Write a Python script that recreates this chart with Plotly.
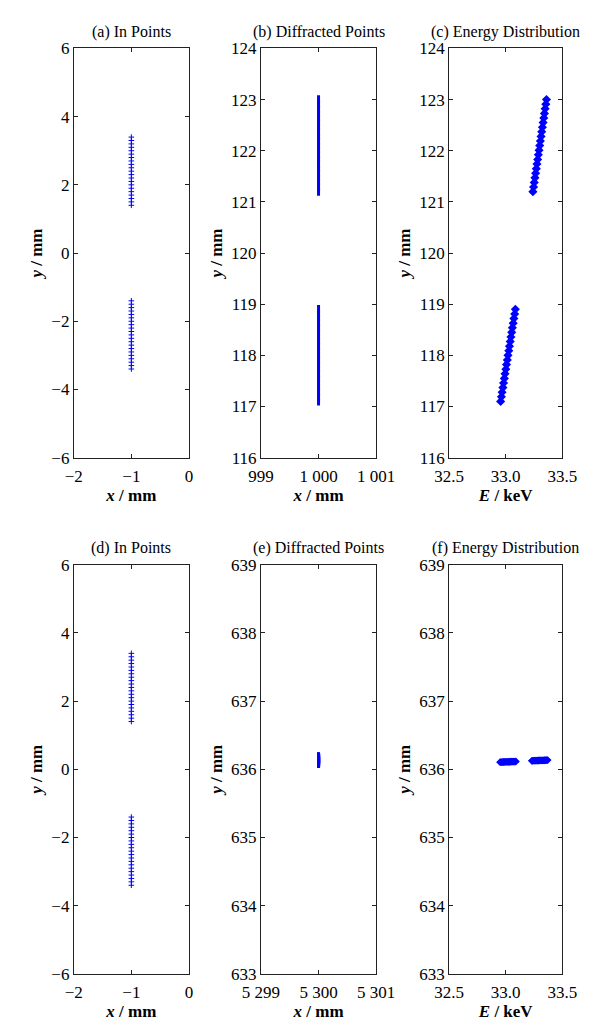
import plotly.graph_objects as go

# ---------------- data ----------------
# (a)/(d) input points (x = -1 mm)
in_x = -1.0
in_y_upper = [1.4, 1.5, 1.6, 1.7, 1.8, 1.9, 2.0, 2.1, 2.2, 2.3, 2.4, 2.5, 2.6, 2.7,
              2.8, 2.9, 3.0, 3.1, 3.2, 3.3, 3.4]
in_y_lower = [-1.4, -1.5, -1.6, -1.7, -1.8, -1.9, -2.0, -2.1, -2.2, -2.3, -2.4, -2.5,
              -2.6, -2.7, -2.8, -2.9, -3.0, -3.1, -3.2, -3.3, -3.4]

# (b) diffracted points (x = 1000 mm)
b_x = 1000.0
b_y_upper = [121.20, 121.29, 121.38, 121.47, 121.56, 121.65, 121.74, 121.83, 121.92,
             122.01, 122.10, 122.19, 122.28, 122.37, 122.46, 122.55, 122.64, 122.73,
             122.82, 122.91, 123.00]
b_y_lower = [117.10, 117.19, 117.28, 117.37, 117.46, 117.55, 117.64, 117.73, 117.82,
             117.91, 118.00, 118.09, 118.18, 118.27, 118.36, 118.45, 118.54, 118.63,
             118.72, 118.81, 118.90]

# (c) energy distribution
c_e_upper = [33.240, 33.246, 33.252, 33.258, 33.264, 33.270, 33.276, 33.282, 33.288,
             33.294, 33.300, 33.306, 33.312, 33.318, 33.324, 33.330, 33.336, 33.342,
             33.348, 33.354, 33.360]
c_e_lower = [32.955, 32.962, 32.968, 32.975, 32.981, 32.988, 32.994, 33.001, 33.007,
             33.014, 33.020, 33.027, 33.033, 33.040, 33.046, 33.053, 33.059, 33.066,
             33.072, 33.079, 33.085]

# (e) diffracted points (x = 5300 mm)
e_x = 5300.0
e_y_upper = [636.13, 636.134, 636.138, 636.142, 636.146, 636.15, 636.154, 636.158,
             636.162, 636.166, 636.17, 636.174, 636.178, 636.182, 636.186, 636.19,
             636.194, 636.198, 636.20, 636.205, 636.21]
e_y_lower = [636.06, 636.064, 636.068, 636.072, 636.076, 636.08, 636.084, 636.088,
             636.092, 636.096, 636.10, 636.104, 636.108, 636.112, 636.116, 636.12,
             636.122, 636.124, 636.126, 636.128, 636.13]

# (f) energy distribution
f_e_left = [32.950, 32.957, 32.964, 32.971, 32.978, 32.985, 32.992, 32.999, 33.006,
            33.013, 33.020, 33.027, 33.034, 33.041, 33.048, 33.055, 33.062, 33.069,
            33.076, 33.083, 33.090]
f_y_left = [636.105, 636.105, 636.106, 636.106, 636.107, 636.107, 636.108, 636.108,
            636.109, 636.109, 636.110, 636.110, 636.111, 636.111, 636.112, 636.112,
            636.113, 636.113, 636.114, 636.114, 636.115]
f_e_right = [33.230, 33.237, 33.244, 33.251, 33.258, 33.265, 33.272, 33.279, 33.286,
             33.293, 33.300, 33.307, 33.314, 33.321, 33.328, 33.335, 33.342, 33.349,
             33.356, 33.363, 33.370]
f_y_right = [636.125, 636.125, 636.126, 636.126, 636.127, 636.127, 636.128, 636.128,
             636.129, 636.129, 636.130, 636.130, 636.131, 636.131, 636.132, 636.132,
             636.133, 636.133, 636.134, 636.134, 636.135]

# tick labels
ticks_a_x = [-2, -1, 0]
ticks_a_x_text = ["\u22122", "\u22121", "0"]
ticks_a_y = [-6, -4, -2, 0, 2, 4, 6]
ticks_a_y_text = ["\u22126", "\u22124", "\u22122", "0", "2", "4", "6"]
ticks_b_x = [999, 1000, 1001]
ticks_b_x_text = ["999", "1 000", "1 001"]
ticks_b_y = [116, 117, 118, 119, 120, 121, 122, 123, 124]
ticks_c_x = [32.5, 33.0, 33.5]
ticks_c_x_text = ["32.5", "33.0", "33.5"]
ticks_e_x = [5299, 5300, 5301]
ticks_e_x_text = ["5 299", "5 300", "5 301"]
ticks_e_y = [633, 634, 635, 636, 637, 638, 639]

titles = ["(a) In Points", "(b) Diffracted Points", "(c) Energy Distribution",
          "(d) In Points", "(e) Diffracted Points", "(f) Energy Distribution"]

# ---------------- layout geometry ----------------
W, H = 593, 1026
col_px = [(50, 173), (250, 373), (451, 572)]
row_px = [(32, 449), (558, 975)]

def xd(c):
    return [col_px[c][0] / W, col_px[c][1] / W]

def yd(r):
    return [1 - row_px[r][1] / H, 1 - row_px[r][0] / H]

BLUE = "#0000ff"
FONT = "Liberation Serif"

fig = go.Figure()

def add(x, y, idx, symbol, size, lw):
    fig.add_trace(go.Scatter(
        x=x, y=y, mode="markers",
        xaxis="x" if idx == 1 else f"x{idx}",
        yaxis="y" if idx == 1 else f"y{idx}",
        marker=dict(symbol=symbol, size=size, color=BLUE,
                    line=dict(color=BLUE, width=lw)),
        showlegend=False, hoverinfo="x+y"))

# (a)
add([in_x] * len(in_y_upper), in_y_upper, 1, "cross-thin", 4, 1)
add([in_x] * len(in_y_lower), in_y_lower, 1, "cross-thin", 4, 1)
# (b)
add([b_x] * len(b_y_upper), b_y_upper, 2, "line-ns", 6, 3)
add([b_x] * len(b_y_lower), b_y_lower, 2, "line-ns", 6, 3)
# (c)
add(c_e_upper, b_y_upper, 3, "diamond", 7, 0)
add(c_e_lower, b_y_lower, 3, "diamond", 7, 0)
# (d)
add([in_x] * len(in_y_upper), in_y_upper, 4, "cross-thin", 4, 1)
add([in_x] * len(in_y_lower), in_y_lower, 4, "cross-thin", 4, 1)
# (e)
add([e_x] * len(e_y_upper), e_y_upper, 5, "line-ns", 4, 3)
add([e_x] * len(e_y_lower), e_y_lower, 5, "line-ns", 4, 3)
# (f)
add(f_e_left, f_y_left, 6, "diamond", 6, 0)
add(f_e_right, f_y_right, 6, "diamond", 6, 0)

axis_common = dict(
    showline=True, mirror="ticks", linecolor="#222", linewidth=1,
    ticks="inside", ticklen=4, tickcolor="#222", tickwidth=1,
    showgrid=False, zeroline=False,
    tickfont=dict(family=FONT, size=17, color="black"),
    title_font=dict(family=FONT, size=17, color="black"),
    tickmode="array",
)

xtitle_mm = "<b><i>x</i> / mm</b>"
ytitle_mm = "<b><i>y</i> / mm</b>"
etitle = "<b><i>E</i> / keV</b>"

specs = [
    (1, 0, 0, [-2, 0], ticks_a_x, ticks_a_x_text, xtitle_mm, [-6, 6], ticks_a_y, ticks_a_y_text),
    (2, 1, 0, [999, 1001], ticks_b_x, ticks_b_x_text, xtitle_mm, [116, 124], ticks_b_y, [str(v) for v in ticks_b_y]),
    (3, 2, 0, [32.5, 33.5], ticks_c_x, ticks_c_x_text, etitle, [116, 124], ticks_b_y, [str(v) for v in ticks_b_y]),
    (4, 0, 1, [-2, 0], ticks_a_x, ticks_a_x_text, xtitle_mm, [-6, 6], ticks_a_y, ticks_a_y_text),
    (5, 1, 1, [5299, 5301], ticks_e_x, ticks_e_x_text, xtitle_mm, [633, 639], ticks_e_y, [str(v) for v in ticks_e_y]),
    (6, 2, 1, [32.5, 33.5], ticks_c_x, ticks_c_x_text, etitle, [633, 639], ticks_e_y, [str(v) for v in ticks_e_y]),
]

layout = dict(width=W, height=H, margin=dict(l=0, r=0, t=0, b=0),
              plot_bgcolor="white", paper_bgcolor="white", showlegend=False)
annotations = []
for idx, c, r, xr, xt, xtt, xtitle, yr, yt, ytt in specs:
    sfx = "" if idx == 1 else str(idx)
    layout["xaxis" + sfx] = dict(axis_common, domain=xd(c), range=xr,
                                 tickvals=xt, ticktext=xtt,
                                 anchor="y" + sfx, ticklabelstandoff=3,
                                 title=dict(text=xtitle, standoff=2))
    layout["yaxis" + sfx] = dict(axis_common, domain=yd(r), range=yr,
                                 tickvals=yt, ticktext=ytt,
                                 anchor="x" + sfx,
                                 title=dict(text=ytitle_mm, standoff=4))
    annotations.append(dict(
        text=titles[idx - 1], xref="paper", yref="paper",
        x=(col_px[c][0] + col_px[c][1]) / 2 / W,
        y=1 - (row_px[r][0] - 17) / H,
        xanchor="center", yanchor="middle", showarrow=False,
        font=dict(family=FONT, size=16, color="black")))
layout["annotations"] = annotations
fig.update_layout(**layout)

fig.write_html("out.html")
